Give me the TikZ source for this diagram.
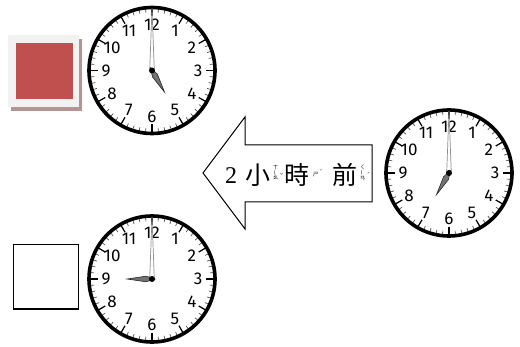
\documentclass[tikz,border=0pt]{standalone}
\usepackage{fontspec}
\setmainfont{Liberation Serif}
\newfontfamily\cjk{Noto Sans CJK TC}
\newfontfamily\clockfont{Fira Sans}
\definecolor{redc}{HTML}{C0504D}
\definecolor{framec}{HTML}{F2F2F2}
\definecolor{shadowc}{HTML}{B59494}
\tikzset{
  rim/.style={line width=3.6pt},
  tickmin/.style={line width=0.6pt, black!75},
  tickhr/.style={line width=1.2pt, black},
  num/.style={font=\clockfont\fontsize{17}{17}\selectfont, inner sep=0pt},
  minhand/.style={draw=black!45, fill=white, line width=0.7pt},
  hrhand/.style={draw=black!85, fill=black!55, line width=0.6pt},
  bopo/.style={font=\cjk\fontsize{5.5}{5.5}\selectfont, inner sep=0pt, align=center},
  tone/.style={font=\cjk\fontsize{5}{5}\selectfont, inner sep=0pt},
  big/.style={inner sep=0pt},
}
\newcommand\myclock[4]{%
  \coordinate (#1) at (#2,#3);
  \fill[white] (#1) circle[radius=64pt];
  \foreach \m in {0,...,59}{%
    \draw[tickmin] ({#2+58*sin(6*\m)},{#3-58*cos(6*\m)}) -- ({#2+63*sin(6*\m)},{#3-63*cos(6*\m)});}
  \foreach \h in {0,...,11}{%
    \draw[tickhr] ({#2+54*sin(30*\h)},{#3-54*cos(30*\h)}) -- ({#2+63*sin(30*\h)},{#3-63*cos(30*\h)});}
  \draw[rim] (#1) circle[radius=63pt];
  \foreach \h in {1,...,12}{%
    \node[num] (#1-n\h) at ({#2+46*sin(30*\h)},{#3-46*cos(30*\h)}) {\h};}
  \begin{scope}[shift={(#2,#3)}]
    \draw[minhand] (-2.3,0) -- (0,-62) -- (2.3,0) -- cycle;
  \end{scope}
  \begin{scope}[shift={(#2,#3)}, rotate=-30*#4]
    \draw[hrhand] (0,3) -- (-2.8,-6) -- (0,-25) -- (2.8,-6) -- cycle;
  \end{scope}
  \fill[black] (#1) circle[radius=3pt];
}
\begin{document}
\begin{tikzpicture}[x=1pt,y=-1pt]
\useasboundingbox (0,0) rectangle (520,347);
% red answer box
\fill[shadowc] (11,39) rectangle (82,111);
\fill[framec] (8,35) rectangle (79,107);
\fill[redc] (16,43) rectangle (73,99);
% empty answer box
\draw[line width=1.5pt] (13.5,244.5) rectangle (78.5,309);
% clocks
\myclock{ca}{152}{70.5}{5}
\myclock{cb}{449}{173}{7}
\myclock{cc}{152}{279}{9}
% arrow
\draw[line width=1pt, fill=white, line join=miter]
  (203,173) -- (245,117) -- (245,145) -- (372,145) -- (372,202) -- (245,202) -- (245,229) -- cycle;
\node[big, font=\fontsize{24}{24}\selectfont] (t2) at (231,176) {2};
\node[big, font=\cjk\fontsize{25}{25}\selectfont] (tx) at (258,175) {小};
\node[bopo] (bx) at (275.5,173) {ㄒ\\[-1pt]\rotatebox{90}{ㄧ}\\[-1pt]ㄠ};
\node[tone] (bxt) at (281.5,175) {ˇ};
\node[big, font=\cjk\fontsize{25}{25}\selectfont] (ts) at (297,175) {時};
\node[bopo] (bs) at (315.5,175) {ㄕ};
\node[tone] (bst) at (321,171) {ˊ};
\node[big, font=\cjk\fontsize{25}{25}\selectfont] (tq) at (345,175) {前};
\node[bopo] (bq) at (362.5,173) {ㄑ\\[-1pt]\rotatebox{90}{ㄧ}\\[-1pt]ㄢ};
\node[tone] (bqt) at (368.5,174) {ˊ};
\end{tikzpicture}
\end{document}
